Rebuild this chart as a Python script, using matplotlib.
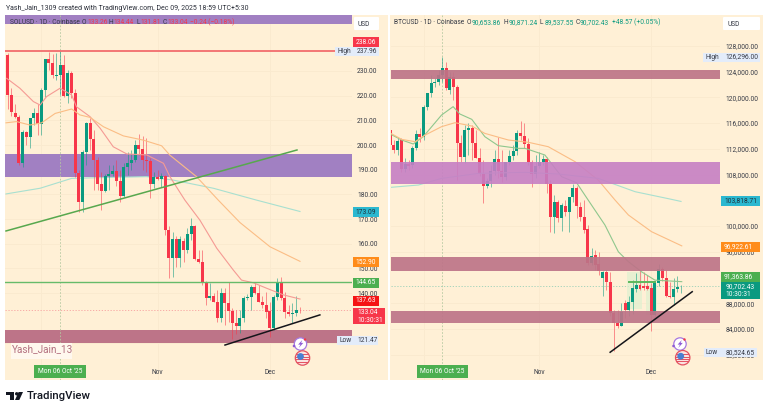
"""Two TradingView daily candle panes side by side: SOLUSD and BTCUSD."""
import numpy as np
import matplotlib
matplotlib.use("Agg")
import matplotlib.pyplot as plt
from matplotlib.patches import Rectangle, Circle, Polygon, FancyBboxPatch

plt.rcParams["font.family"] = ["Roboto", "DejaVu Sans"]

# ── data ──────────────────────────────────────────────────────────────────────
# days counted from Mon 06 Oct 2025, one candle per day
days = np.arange(-14, 65)

sol_open = [236.5, 220.3, 213, 211.4, 192.7, 205.3, 203.3, 211, 213, 208.5,
            222.3, 234.8, 233.2, 228, 228.4, 232.4, 219.9, 229.2, 221.1, 188.7,
            176.9, 197.2, 208.9, 202.4, 193.9, 184.2, 181.4, 187.5, 188.3, 189.5,
            185.4, 179.4, 191.1, 192.7, 193.9, 200, 198.4, 193.9, 193.7, 184.2,
            187, 186.2, 187.5, 165.6, 154.2, 161.9, 154.2, 161, 157.5, 164,
            167.2, 153.8, 152.6, 144.1, 138, 138.8, 136.4, 130, 140.1, 136,
            132.8, 127.9, 126.7, 130, 138, 138.4, 142.5, 140.1, 136.4, 135.2,
            132.8, 125.9, 138.4, 144.1, 138, 132.4, 131.6, 132, 133.26]
sol_high = [237.3, 223.1, 216.6, 212.2, 206.1, 205.7, 211, 215, 216.6, 223.1,
            234.8, 237.7, 236.9, 237.3, 238, 236.5, 230.4, 230, 222.7, 189.9,
            198, 209.3, 211, 206.1, 195.1, 189, 188.3, 191.9, 191.9, 193.9,
            189.9, 192.7, 197.2, 198, 202, 204.5, 203.7, 202.8, 194.7, 189,
            189.9, 188.7, 187.9, 167.2, 164.8, 163.2, 163.2, 162.3, 166.4, 170.4,
            167.6, 157.5, 157.5, 144.9, 144.1, 140.1, 141.3, 142.1, 142.1, 144.5,
            134, 133.2, 133.2, 138.8, 139.7, 143.3, 144.1, 143.3, 138.8, 140.5,
            136.4, 139.3, 146.1, 146.5, 140.5, 135.2, 136, 138.8, 134.44]
sol_low = [214.6, 211.8, 211, 191.9, 191.1, 200, 198.8, 208.1, 204, 204,
           219.5, 230.4, 227.2, 226.3, 220.3, 219.5, 217, 219.1, 187, 172.9,
           172.9, 191.9, 198, 181.8, 181.8, 173.7, 181, 181.8, 187.5, 183.4,
           176.9, 179, 187.9, 189.9, 193.1, 196, 189.9, 189.1, 178.5, 182.6,
           185.8, 183, 163.6, 146.2, 146.6, 150.6, 150.6, 152.6, 156.3, 161.5,
           153.4, 152.2, 143.3, 135.2, 137.2, 136.4, 128.3, 128.3, 127.1, 128.3,
           121.47, 123.5, 123.9, 128.3, 137.2, 133.2, 139.7, 136.4, 134, 130,
           122.3, 125.1, 137.2, 137.2, 130, 130.8, 127.9, 130.8, 131.81]
sol_close = [220.3, 213.4, 211.4, 192.7, 205.3, 203.3, 211, 213, 208.5, 222.3,
             234.8, 233.2, 228.4, 228.4, 232.4, 219.9, 229.2, 221.1, 188.7, 176.9,
             197.2, 208.9, 202.4, 193.9, 184.2, 181.4, 187.5, 188.3, 189.5, 185.4,
             179.4, 191.1, 192.7, 193.9, 200, 198.4, 193.9, 193.7, 184.2, 187,
             186.2, 187.5, 165.6, 154.2, 161.9, 154.2, 161.9, 157.5, 164, 167.2,
             153.8, 152.6, 144.1, 138, 138.8, 136.4, 130, 140.1, 136, 132.8,
             127.9, 126.7, 130, 138, 138.4, 142.5, 140.1, 136.4, 135.2, 132.4,
             125.9, 138.4, 144.1, 138, 132.4, 131.6, 132, 133.3, 133.04]

# BTC prices in thousands of USD
btc_open = [114.91, 112.58, 111.8, 113.36, 108.85, 109.63, 109.48, 112.12, 114.29, 113.82,
            118.48, 120.66, 122.21, 122.37, 123.45, 124.54, 121.12, 123.14, 121.59, 112.89,
            110.72, 114.91, 115.22, 112.89, 110.56, 108.08, 106.21, 106.99, 108.54, 110.41,
            108.54, 107.61, 109.94, 110.87, 111.65, 114.44, 113.98, 112.74, 109.94, 108.08,
            109.32, 109.94, 110.41, 106.52, 101.4, 103.73, 101.24, 103.11, 102.18, 104.51,
            105.9, 102.95, 101.4, 99.54, 94.26, 95.5, 94.1, 91.93, 92.86, 91.31,
            86.49, 84.94, 84.47, 88.04, 86.96, 88.2, 90.22, 90.84, 90.68, 90.68,
            90.37, 86.18, 91.15, 93.32, 91.93, 89.13, 88.98, 90.22, 90.65]
btc_high = [115.38, 113.36, 113.82, 113.67, 110.56, 110.25, 112.43, 114.91, 115.22, 118.79,
            120.66, 123.45, 122.99, 124.23, 126.296, 125.47, 123.92, 123.92, 121.9, 114.13,
            115.69, 116.0, 115.69, 114.91, 112.12, 110.25, 107.46, 109.48, 111.8, 113.82,
            111.8, 109.94, 111.8, 112.58, 114.91, 116.31, 116.0, 113.67, 110.25, 111.03,
            111.49, 111.03, 110.72, 107.15, 104.82, 104.04, 103.57, 104.04, 104.51, 106.52,
            106.21, 103.73, 104.04, 100.16, 96.59, 96.28, 95.96, 93.01, 93.17, 92.86,
            86.96, 86.96, 88.04, 88.51, 89.13, 91.62, 92.7, 93.17, 92.86, 92.39,
            91.15, 91.31, 94.1, 93.63, 93.17, 91.31, 91.93, 92.24, 90.87]
btc_low = [112.43, 111.34, 111.03, 108.39, 108.39, 108.7, 109.01, 111.8, 113.05, 113.36,
           118.02, 120.04, 121.59, 121.9, 122.37, 121.12, 120.5, 119.57, 107.15, 109.94,
           109.79, 111.03, 110.25, 110.56, 107.77, 103.57, 105.9, 106.06, 107.92, 107.46,
           106.84, 107.15, 109.48, 110.25, 111.03, 113.36, 112.12, 109.48, 106.06, 107.46,
           109.01, 109.48, 105.13, 99.07, 98.92, 100.62, 99.23, 101.56, 99.07, 103.73,
           101.24, 100.78, 98.92, 93.95, 93.95, 93.17, 92.39, 89.13, 90.06, 86.03,
           80.52, 84.16, 84.47, 85.71, 86.03, 86.34, 89.75, 90.06, 90.06, 90.06,
           83.7, 86.03, 90.68, 91.46, 88.98, 88.82, 87.73, 89.75, 89.54]
btc_close = [112.58, 111.8, 113.2, 108.85, 109.63, 109.32, 112.12, 114.29, 113.82, 118.48,
             120.66, 122.21, 122.37, 123.45, 124.54, 121.43, 123.14, 121.59, 112.89, 110.72,
             114.91, 115.22, 112.89, 110.56, 108.08, 106.21, 106.99, 108.54, 110.41, 108.54,
             107.61, 109.94, 110.87, 111.65, 114.44, 113.98, 112.74, 109.94, 108.08, 109.32,
             109.94, 110.41, 106.52, 101.4, 103.73, 101.24, 103.26, 102.18, 104.51, 105.9,
             103.11, 101.4, 99.38, 94.26, 95.34, 93.95, 93.01, 92.86, 91.31, 86.49,
             84.94, 84.47, 86.65, 86.96, 88.2, 90.37, 90.84, 90.22, 90.37, 90.22,
             86.18, 91.15, 93.32, 91.93, 89.13, 88.98, 90.22, 90.53, 90.70]

# moving averages, read at a handful of days
sol_ma20_x = [-14.2, -10.7, -7.1, -5.3, -3.6, 0, 3.1, 4.4, 8, 10.7, 14.2, 17.8, 23.1,
              27.6, 29.3, 33.3, 37.3, 41.8, 46.2, 48.4, 51.6, 55.1, 59.6, 64]
sol_ma20_y = [227, 223, 217.6, 216.2, 219.6, 223, 220.3, 215.5, 211.5, 206.8, 199.3, 196.4, 196,
              192.6, 187.2, 177.7, 169.6, 158.2, 149.4, 145.3, 144.2, 142, 139.3, 137.63]
sol_ma50_x = [-14.4, -11.6, -8, -4.9, -1.3, 3.1, 5.3, 8, 11.6, 16.9, 22.2, 27.1, 29.3,
              36.4, 42.2, 48, 56, 64]
sol_ma50_y = [209, 209.5, 208.1, 209, 212.8, 214.6, 212.2, 211.2, 207.4, 203.7, 202, 199.7, 195.9,
              187.2, 177.7, 168.6, 158.8, 152.9]
sol_ma200_x = [-14.4, -5.3, 3.1, 10.7, 23.1, 30.2, 40.9, 52.4, 64]
sol_ma200_y = [180.2, 182.5, 186.5, 186.8, 187.2, 185.8, 182.5, 177.7, 173.09]

btc_ma20_x = [-13.8, -10.9, -7.8, -5.1, -0.2, 2.9, 4.7, 7.9, 11.4, 15, 20.4, 22.2, 27.5,
              32, 36, 39.1, 43.6, 47.2, 49.9, 53.4, 57, 64.2]
btc_ma20_y = [114.24, 113.36, 112.74, 113.88, 117.24, 118.54, 117.4, 116.57, 113.88, 112.48,
              112.06, 112.06, 111.03, 107.66, 106.73, 104.04, 100.16, 96, 94.46, 92.9, 91.6, 91.36]
btc_ma50_x = [-13.8, -10.9, -7.3, -4.6, -0.2, 3.4, 7.9, 11.4, 17.7, 23.1, 28.4, 35.6, 41.8,
              46.3, 49.9, 56.1, 64.2]
btc_ma50_y = [114.39, 113.46, 113.1, 114.13, 115.43, 116.05, 115.53, 114.39, 113.36, 113, 112.32,
              109.99, 107.14, 104.04, 101.71, 99.12, 96.92]
btc_ma200_x = [-13.8, -6.4, -0.2, 9.7, 22.2, 31.1, 41.8, 51.7, 61, 64]
btc_ma200_y = [106.01, 106.37, 107.4, 108.18, 108.34, 108.08, 107.4, 105.33, 104.2, 103.82]

# zones (low, high) and trend lines ((day, price), (day, price))
sol_zones = [(249.2, 252.87), (187.2, 196.4)]
sol_zone_low = (120, 125.1)
sol_high_line = 238.06
sol_res_line = 144.65
sol_last = 133.04
sol_trend_up = [(-14.4, 165.2), (63.2, 198)]
sol_trend_low = [(44, 119), (69.3, 131.2)]

btc_zones_mauve = [(122.88, 124.23), (92.97, 95.23), (84.89, 86.8)]
btc_zone_purple = (106.52, 109.99)
btc_last = 90.70
btc_trend_low = [(45, 80.4), (67, 89.8)]
btc_box_line = [(50, 57), 91.36]
btc_boxes = [(50, 53, 87.1, 92.86), (55, 57, 86.2, 90.84)]

sol_ticks = [230, 220, 210, 200, 190, 180, 170, 160, 150, 140, 120]
btc_ticks = [128, 124, 120, 116, 112, 108, 100, 96, 88, 84, 80]
month_days = [-5, 26, 56]

# ── colours ───────────────────────────────────────────────────────────────────
CREAM = "#fff0d6"
GRID = "#faeacf"
UP = "#0a9a80"
DOWN = "#f7364a"
GREEN = "#4caf50"
MAUVE = "#bd7488"

# ── figure and pixel overlay ──────────────────────────────────────────────────
W, H = 768, 412
fig = plt.figure(figsize=(W / 100, H / 100), dpi=100, facecolor="white")


def pane_axes(x0, x1, y0, y1, z):
    return fig.add_axes([x0 / W, 1 - y1 / H, (x1 - x0) / W, (y1 - y0) / H], zorder=z)


bg = pane_axes(0, W, 0, H, 0)
bg.set_xlim(0, W)
bg.set_ylim(H, 0)
bg.axis("off")
bg.add_patch(Rectangle((5, 14.5), 383, 365.5, color=CREAM, lw=0))
bg.add_patch(Rectangle((390, 14.5), 373, 365.5, color=CREAM, lw=0))

px = pane_axes(0, W, 0, H, 10)
px.set_xlim(0, W)
px.set_ylim(H, 0)
px.axis("off")
px.patch.set_alpha(0)


def candles(ax, o, h, l, c, z=3):
    o, h, l, c = map(np.array, (o, h, l, c))
    colors = np.where(c >= o, UP, DOWN)
    ax.vlines(days, l, h, colors=colors, lw=0.7, alpha=0.55, zorder=z)
    ax.bar(days, np.maximum(np.abs(c - o), 1e-3), bottom=np.minimum(o, c), width=0.8,
           color=colors, lw=0, zorder=z + 0.1)


def style_axes(ax, xlim, ylim, ticks, labels, pad):
    ax.set_xlim(*xlim)
    ax.set_ylim(*ylim)
    ax.patch.set_alpha(0)
    for s in ax.spines.values():
        s.set_visible(False)
    ax.yaxis.tick_right()
    ax.set_yticks(ticks)
    ax.set_yticklabels(labels)
    ax.set_xticks(month_days)
    ax.tick_params(axis="x", length=0, labelbottom=False)
    ax.tick_params(axis="y", length=0, pad=pad, labelsize=4.8, labelcolor="#363a45")
    ax.grid(True, color=GRID, lw=0.7, zorder=0)
    ax.set_axisbelow(True)


def tag(x0, x1, yc, s, color, fg="white", h=10):
    px.add_patch(Rectangle((x0, yc - h / 2), x1 - x0, h, color=color, lw=0, zorder=5))
    px.text(x0 + 3, yc, s, color=fg, fontsize=4.8, va="center", ha="left", zorder=6)


def header(segments, y=22.5):
    for x, s, col in segments:
        px.text(x, y, s, color=col, fontsize=4.8, va="center", ha="left", zorder=6)


def usd_button(x0, x1):
    px.add_patch(FancyBboxPatch((x0 + 1, 18), x1 - x0 - 2, 11, boxstyle="round,pad=1",
                                fc="white", ec="none", zorder=5))
    px.text(x0 + 4, 24, "USD", color="#363a45", fontsize=4.8, va="center", zorder=6)


def high_low_box(x0, x1, yc, word, value, vx):
    px.add_patch(Rectangle((x0, yc - 4.5), x1 - x0, 9, color="#e3ecfa", lw=0, zorder=5))
    px.text(x0 + 2, yc, word, color="#363a45", fontsize=4.8, va="center", zorder=6)
    px.text(vx, yc, value, color="#363a45", fontsize=4.8, va="center", zorder=6)


def bolt_icon(cx, cy):
    px.add_patch(Circle((cx, cy), 6.2, fc="white", ec="#a678e0", lw=0.9, zorder=5))
    px.add_patch(Polygon([(cx + 1.8, cy - 4), (cx - 2.4, cy + 0.6), (cx, cy + 0.6), (cx - 1.8, cy + 4),
                          (cx + 2.8, cy - 1.1), (cx + 0.6, cy - 1.1)], color="#8e5bd6", lw=0, zorder=6))
    px.add_patch(Circle((cx - 6.5, cy + 2), 1.3, color="#8e5bd6", lw=0, zorder=6))
    px.add_patch(Circle((cx + 4.5, cy - 4.5), 1.2, color="#f23645", lw=0, zorder=6))


def flag_icon(cx, cy):
    disc = Circle((cx, cy), 7.2, fc="#fbe3e0", ec="#e4505f", lw=0.9, zorder=5)
    px.add_patch(disc)
    for dy in (-3.6, -1.2, 1.2, 3.6):
        line = px.plot([cx - 7, cx + 7], [cy + dy, cy + dy], color="#e4505f", lw=0.7, zorder=6)[0]
        line.set_clip_path(disc)
    px.add_patch(Circle((cx - 2, cy - 1.5), 3.4, color="#4a7fd0", lw=0, zorder=7))


# ── SOLUSD pane ───────────────────────────────────────────────────────────────
ax1 = pane_axes(5, 352, 14.5, 380, 5)
style_axes(ax1, (-14.67, 77.87), (104.84, 252.87), sol_ticks,
           [f"{t:.2f}" for t in sol_ticks], 3.6)

for lo, hi in sol_zones:
    ax1.axhspan(lo, hi, color="#a180c2", lw=0, zorder=1)
ax1.plot(sol_ma200_x, sol_ma200_y, color="#a8e0d0", lw=0.8, zorder=1.5)
ax1.axhspan(*sol_zone_low, color=MAUVE, lw=0, zorder=1)
ax1.axvline(0, color="#b5c9a0", lw=0.6, ls=(0, (2, 2)), zorder=2)
ax1.axhline(sol_last, color="#f7a0a0", lw=0.6, ls=(0, (1.5, 2)), zorder=2)
candles(ax1, sol_open, sol_high, sol_low, sol_close)
ax1.plot(sol_ma20_x, sol_ma20_y, color="#f59a94", lw=0.8, zorder=4)
ax1.plot(sol_ma50_x, sol_ma50_y, color="#fbbd85", lw=0.8, zorder=4)
ax1.axhline(sol_high_line, color="#f26d6d", lw=1.3, zorder=4)
ax1.axhline(sol_res_line, color="#66bb6a", lw=1.0, zorder=4)
ax1.plot(*zip(*sol_trend_up), color="#57a84e", lw=1.1, zorder=4.5)
ax1.plot(*zip(*sol_trend_low), color="#15151a", lw=1.1, zorder=4.5)

header([(9.5, "SOLUSD · 1D · Coinbase", "#363a45"), (82, "O", "#363a45"), (87, "133.26", DOWN),
        (108.7, "H", "#363a45"), (113.5, "134.44", DOWN), (136.7, "L", "#363a45"), (140.5, "131.81", DOWN),
        (162.7, "C", "#363a45"), (167, "133.04", DOWN), (190, "−0.24 (−0.18%)", DOWN)])
usd_button(354, 379)
tag(352.7, 379, 42.3, "238.06", "#f7364a")
high_low_box(335, 379, 51, "High", "237.96", 357)
tag(352.7, 379, 212.3, "173.09", "#2bb8d0", fg="#20303a")
tag(352.7, 379, 262.3, "152.90", "#ff8c1a")
tag(352.7, 379, 282.7, "144.65", GREEN)
tag(352.7, 379, 300.7, "137.63", "#f51414")
px.add_patch(Rectangle((352.7, 307.7), 32.5, 16.3, color="#f7364a", lw=0, zorder=5))
px.text(357, 312, "133.04", color="white", fontsize=4.8, va="center", zorder=6)
px.text(357, 320, "10:30:31", color="white", fontsize=4.8, va="center", zorder=6)
high_low_box(337, 378, 340.7, "Low", "121.47", 357)

# watermark box, the name runs off its right edge
wm_box = Rectangle((11, 343), 60.7, 16, fc="#fff8ee", ec="none", zorder=5)
px.add_patch(wm_box)
wm = px.text(12, 349.5, "Yash_Jain_1309", color="#b3707f", fontsize=7.2, va="center", zorder=6)
wm.set_clip_on(True)
wm.set_clip_path(wm_box)
bolt_icon(300.5, 344)
flag_icon(302.5, 358)

px.add_patch(Rectangle((34.3, 365), 51.7, 12.5, color=GREEN, lw=0, zorder=5))
px.text(60, 371.5, "Mon 06 Oct '25", color="white", fontsize=4.8, ha="center", va="center", zorder=6)
px.text(157.5, 372, "Nov", color="#363a45", fontsize=4.8, ha="center", va="center", zorder=6)
px.text(270, 372, "Dec", color="#363a45", fontsize=4.8, ha="center", va="center", zorder=6)

# ── BTCUSD pane ───────────────────────────────────────────────────────────────
ax2 = pane_axes(390.5, 720, 14.5, 380, 5)
style_axes(ax2, (-13.89, 74.45), (76.09, 132.85), btc_ticks,
           [f"{t * 1000:,.2f}" for t in btc_ticks], 4.1)

ax2.axvline(0, color="#b5c9a0", lw=0.6, ls=(0, (2, 2)), zorder=2)
ax2.axhline(btc_last, color="#9ad0b8", lw=0.6, ls=(0, (1.5, 2)), zorder=2)
for d0, d1, lo, hi in btc_boxes:
    ax2.add_patch(Rectangle((d0 - 0.5, lo), d1 - d0 + 1, hi - lo, color="#dff0cf", alpha=0.7, lw=0, zorder=2))
candles(ax2, btc_open, btc_high, btc_low, btc_close)
ax2.plot(btc_ma20_x, btc_ma20_y, color="#8fc78d", lw=0.8, zorder=4)
ax2.plot(btc_ma50_x, btc_ma50_y, color="#fbbd85", lw=0.8, zorder=4)
ax2.plot(btc_ma200_x, btc_ma200_y, color="#a8e0d0", lw=0.8, zorder=4)
ax2.plot(btc_box_line[0], [btc_box_line[1]] * 2, color="#5cb85c", lw=1.4, zorder=4.2)
for lo, hi in btc_zones_mauve:
    ax2.axhspan(lo, hi, color=MAUVE, alpha=0.92, lw=0, zorder=4.3)
ax2.axhspan(*btc_zone_purple, color="#c67fc4", alpha=0.9, lw=0, zorder=4.3)
ax2.plot(*zip(*btc_trend_low), color="#15151a", lw=1.1, zorder=4.5)

header([(394.3, "BTCUSD · 1D · Coinbase", "#363a45"), (466.7, "O", "#363a45"), (471.7, "90,653.86", UP),
        (504, "H", "#363a45"), (508.4, "90,871.24", UP), (540, "L", "#363a45"), (544.3, "89,537.55", UP),
        (576, "C", "#363a45"), (580, "90,702.43", UP), (612.3, "+48.57 (+0.05%)", UP)])
usd_button(723, 760)
high_low_box(703, 760, 57, "High", "126,296.00", 725.7)
tag(721, 760, 201, "103,818.71", "#2bb8d0", fg="#20303a")
tag(721, 760, 246.7, "96,922.61", "#ff8c1a")
tag(721, 760, 277, "91,363.86", GREEN)
px.add_patch(Rectangle((721, 282), 39, 16.5, color=UP, lw=0, zorder=5))
px.text(725.7, 286.5, "90,702.43", color="white", fontsize=4.8, va="center", zorder=6)
px.text(725.7, 294, "10:30:31", color="white", fontsize=4.8, va="center", zorder=6)
high_low_box(704, 757, 352.3, "Low", "80,524.65", 725.7)
bolt_icon(680, 344)
flag_icon(682.7, 357.7)

px.add_patch(Rectangle((416.7, 365), 51.6, 12.5, color=GREEN, lw=0, zorder=5))
px.text(442.5, 371.5, "Mon 06 Oct '25", color="white", fontsize=4.8, ha="center", va="center", zorder=6)
px.text(539, 372, "Nov", color="#363a45", fontsize=4.8, ha="center", va="center", zorder=6)
px.text(651.5, 372, "Dec", color="#363a45", fontsize=4.8, ha="center", va="center", zorder=6)

# ── page header and footer ────────────────────────────────────────────────────
px.text(6, 8, "Yash_Jain_1309 created with TradingView.com, Dec 09, 2025 18:59 UTC+5:30",
        color="#2a2e39", fontsize=5.0, va="center")
px.add_patch(Polygon([(6, 392), (14.3, 392), (14.3, 400), (10.2, 400), (10.2, 395.2), (6, 395.2)],
                     color="#131722", lw=0))
px.add_patch(Circle((16.7, 393.8), 1.7, color="#131722", lw=0))
px.add_patch(Polygon([(18.6, 392), (23, 392), (19.3, 400), (15, 400)], color="#131722", lw=0))
px.text(26.5, 396, "TradingView", color="#131722", fontsize=8.2, fontweight="medium", va="center")

fig.savefig("out.png", dpi=100)
print("Saved out.png")
